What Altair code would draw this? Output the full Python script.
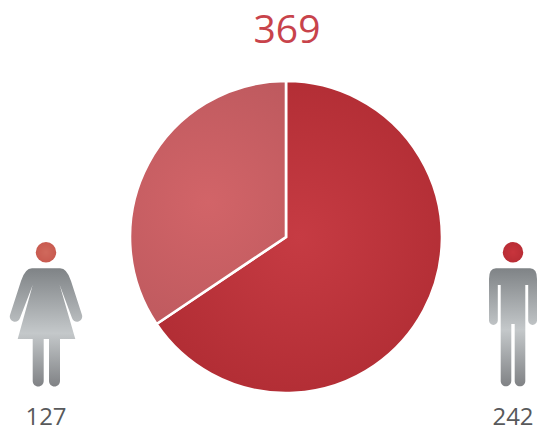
import altair as alt
import pandas as pd

sexes = ["Men", "Women"]
counts = [242, 127]
total = sum(counts)

starts = [sum(counts[:i]) for i in range(len(counts))]
ends = [sum(counts[:i + 1]) for i in range(len(counts))]
df = pd.DataFrame({"sex": sexes, "count": counts, "start": starts, "end": ends})
df_total = pd.DataFrame({"total": [total]})

CX, CY = 278, 229
W, H = 529, 421


def radial(inner, outer, r2=0.66):
    return alt.RadialGradient(
        gradient="radial", x1=0.5, y1=0.5, x2=0.5, y2=0.5, r1=0, r2=r2,
        stops=[alt.GradientStop(offset=0, color=inner),
               alt.GradientStop(offset=1, color=outer)])


def steel(mid):
    return alt.LinearGradient(
        gradient="linear", x1=0, y1=0, x2=0, y2=1,
        stops=[alt.GradientStop(offset=0, color="#7f8386"),
               alt.GradientStop(offset=mid, color="#c4c8ca"),
               alt.GradientStop(offset=1, color="#808285")])


MAN = ("M-17,-58.7 L17,-58.7 Q24,-58.7 24,-48 L24,-6.5 A4.4,4.4 0 0 1 15.2,-6.5 "
       "L15.2,-42 L12.3,-42 L12.3,54 A5.3,5.3 0 0 1 1.7,54 L1.7,-3 L-1.7,-3 L-1.7,54 "
       "A5.3,5.3 0 0 1 -12.3,54 L-12.3,-42 L-15.2,-42 L-15.2,-6.5 A4.4,4.4 0 0 1 -24,-6.5 "
       "L-24,-48 Q-24,-58.7 -17,-58.7 Z")
WOMAN = ("M-14,-58.7 L14,-58.7 Q21,-58.7 25,-46 L36,-12 A5.2,5.2 0 0 1 26,-9 L13.7,-42 "
         "L29.3,12 L-28.3,12 L-13.3,-42 L-26,-9 A5.2,5.2 0 0 1 -36,-12 L-25,-46 "
         "Q-21,-58.7 -14,-58.7 Z "
         "M-13.3,12 L-2.3,12 L-2.3,54 A5.5,5.5 0 0 1 -13.3,54 Z "
         "M3,12 L14,12 L14,54 A5.5,5.5 0 0 1 3,54 Z")

x_sex = alt.X("sex:N", axis=None,
              scale=alt.Scale(type="point", domain=["Women", "Men"], range=[38, 505], padding=0))
theta_scale = alt.Scale(domain=[0, total])


def slice_layer(name, inner, outer):
    return alt.Chart(df).transform_filter(alt.datum.sex == name).mark_arc(
        radius=156, fill=radial(inner, outer), stroke="white", strokeWidth=2.6,
    ).encode(
        theta=alt.Theta("start:Q", scale=theta_scale),
        theta2=alt.Theta2("end:Q"),
        x=alt.value(CX), y=alt.value(CY),
    )


def figure_layer(name, path, mid, inner, outer):
    base = alt.Chart(df).transform_filter(alt.datum.sex == name)
    body = base.mark_point(shape=path, size=4, filled=True, fill=steel(mid), opacity=1,
                           strokeWidth=0).encode(x=x_sex, y=alt.value(319))
    head = base.mark_point(shape="circle", size=415, filled=True, fill=radial(inner, outer),
                           opacity=1, strokeWidth=0).encode(x=x_sex, y=alt.value(244.3))
    return body + head


title = alt.Chart(df_total).mark_text(
    font="Open Sans", fontSize=39, color="#c8434b", baseline="alphabetic", align="center"
).encode(text="total:Q", x=alt.value(279), y=alt.value(35))

labels = alt.Chart(df).mark_text(
    font="Open Sans", fontSize=24, color="#58595b", baseline="alphabetic", align="center"
).encode(text="count:Q", x=x_sex, y=alt.value(417))

chart = alt.layer(
    slice_layer("Men", "#c63b43", "#ad2a31"),
    slice_layer("Women", "#d26468", "#bb585d"),
    figure_layer("Women", WOMAN, 0.55, "#d0695c", "#c6564c"),
    figure_layer("Men", MAN, 0.52, "#c8343c", "#b42b33"),
    title,
    labels,
).properties(
    width=W, height=H, padding=0, autosize=alt.AutoSizeParams(type="none"),
).configure_view(stroke=None)

chart.save("out.html", embed_options={"renderer": "svg", "actions": False})
